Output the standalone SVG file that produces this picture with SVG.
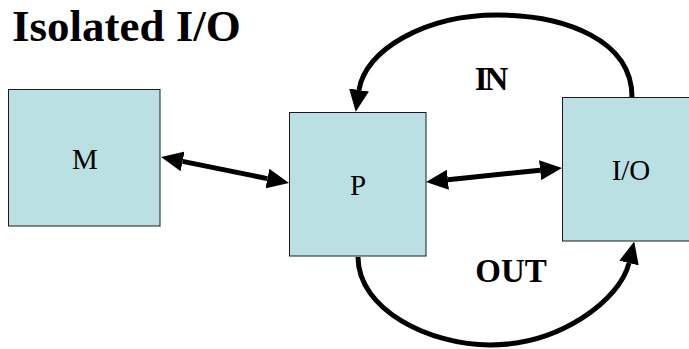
<svg xmlns="http://www.w3.org/2000/svg" width="689" height="349" viewBox="0 0 689 349">
  <style>
    .box { fill: #bbe0e3; stroke: #1a1a1a; stroke-width: 1; }
    .lbl { font-family: "Liberation Serif", "Times New Roman", serif; font-size: 29px; fill: #000; text-anchor: middle; }
    .bold { font-family: "Liberation Serif", "Times New Roman", serif; font-weight: bold; fill: #000; }
    .conn { fill: none; stroke: #000; stroke-width: 5; }
  </style>
  <defs>
    <marker id="ah" viewBox="0 0 22 20" refX="0" refY="10" markerUnits="userSpaceOnUse" markerWidth="22" markerHeight="20" orient="auto-start-reverse">
      <path d="M0,0 L22,10 L0,20 z" fill="#000"/>
    </marker>
  </defs>
  <text class="bold" x="12" y="41" font-size="45">Isolated I/O</text>
  <g id="node-M">
    <rect class="box" x="8.5" y="89.5" width="151.5" height="136.5"/>
    <text class="lbl" x="85" y="169">M</text>
  </g>
  <g id="node-P">
    <rect class="box" x="289.5" y="112.5" width="136.5" height="143.5"/>
    <text class="lbl" x="358" y="195">P</text>
  </g>
  <g id="node-IO">
    <rect class="box" x="562.5" y="97.5" width="140" height="143.5"/>
    <text class="lbl" x="631" y="180">I/O</text>
  </g>
  <g id="connectors">
    <path class="conn" d="M182.6,161.4 L267.4,178.6" marker-start="url(#ah)" marker-end="url(#ah)"/>
    <path class="conn" d="M447.9,179.75 L540.1,170.25" marker-start="url(#ah)" marker-end="url(#ah)"/>
    <path class="conn" d="M632,97 C632,40 565,15 497,15 C425,15 365,50 359,90" marker-end="url(#ah)"/>
    <path class="conn" d="M358,257 C358,310 430,345 490,345 C560,345 620,300 629,263" marker-end="url(#ah)"/>
  </g>
  <text class="bold" x="490" y="90" font-size="33" text-anchor="middle" letter-spacing="-3">IN</text>
  <text class="bold" x="511" y="282" font-size="33" text-anchor="middle">OUT</text>
</svg>
